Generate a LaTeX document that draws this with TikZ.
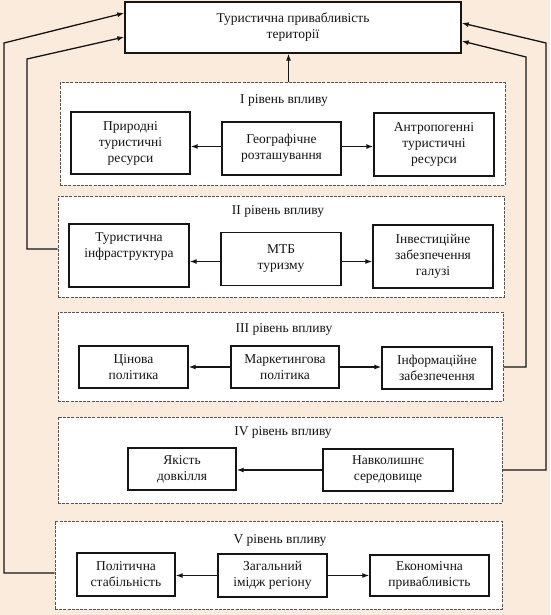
\documentclass[tikz,border=0pt]{standalone}
\usepackage{fontspec}
\setmainfont{Liberation Serif}
\usetikzlibrary{arrows.meta}
\definecolor{bgc}{HTML}{FAEBDC}
\definecolor{ink}{HTML}{151515}
\definecolor{dashc}{HTML}{555555}
\tikzset{
  box/.style={draw=ink, line width=1.4pt, fill=white, inner sep=0pt, align=center,
    font=\fontsize{13.5}{16}\selectfont, text=ink},
  level/.style={draw=dashc, line width=1pt, dash pattern=on 3pt off 1.2pt, fill=white, inner sep=0pt},
  lvlabel/.style={font=\fontsize{13.5}{16}\selectfont, text=ink, inner sep=0pt},
  arr/.style={draw=ink, line width=1.3pt, -{Latex[length=7pt,width=5pt]}},
  fb/.style={draw=ink, line width=1.3pt, -{Latex[length=7pt,width=5pt]}}
}
\begin{document}
\begin{tikzpicture}[x=1pt,y=-1pt]
\useasboundingbox[fill=bgc] (0,0) rectangle (550,615);
% top box
\node[box, minimum width=336pt, minimum height=51pt] (top) at (293,27.5) {Туристична привабливість\\території};
% levels
\node[level, minimum width=445pt, minimum height=102pt] (lv1) at (282.5,134) {};
\node[level, minimum width=446pt, minimum height=101pt] (lv2) at (281,246.5) {};
\node[level, minimum width=445pt, minimum height=89pt] (lv3) at (280.5,356.5) {};
\node[level, minimum width=444pt, minimum height=86pt] (lv4) at (280,460) {};
\node[level, minimum width=447pt, minimum height=88pt] (lv5) at (278.5,565) {};
\node[lvlabel] (l1) at (284,100) {I рівень впливу};
\node[lvlabel] (l2) at (278,211) {II рівень впливу};
\node[lvlabel] (l3) at (284,329) {III рівень впливу};
\node[lvlabel] (l4) at (283,432) {IV рівень впливу};
\node[lvlabel] (l5) at (280,540) {V рівень впливу};
% level I
\node[box, minimum width=119pt, minimum height=62pt] (prir) at (130.5,143) {Природні\\туристичні\\ресурси};
\node[box, minimum width=119pt, minimum height=53pt] (geo) at (281.5,148.5) {Географічне\\розташування};
\node[box, minimum width=120pt, minimum height=63pt] (antr) at (434,144.5) {Антропогенні\\туристичні\\ресурси};
% level II
\node[box, minimum width=120pt, minimum height=63pt] (infr) at (129,255.5) {Туристична\\інфраструктура\\\strut};
\node[box, minimum width=120pt, minimum height=53pt] (mtb) at (281,259) {МТБ\\туризму};
\node[box, minimum width=120pt, minimum height=63pt] (inv) at (433,256.5) {Інвестиційне\\забезпечення\\галузі};
% level III
\node[box, minimum width=109pt, minimum height=42pt] (cin) at (133.5,367) {Цінова\\політика};
\node[box, minimum width=108pt, minimum height=42pt] (mark) at (285,367) {Маркетингова\\політика};
\node[box, minimum width=110pt, minimum height=42pt] (inf) at (437,368) {Інформаційне\\забезпечення};
% level IV
\node[box, minimum width=108pt, minimum height=42pt] (yak) at (182,469) {Якість\\довкілля};
\node[box, minimum width=130pt, minimum height=42pt] (navk) at (388,470) {Навколишнє\\середовище};
% level V
\node[box, minimum width=98pt, minimum height=43pt] (pol) at (126,574.5) {Політична\\стабільність};
\node[box, minimum width=109pt, minimum height=43pt] (zag) at (272.5,575.5) {Загальний\\імідж регіону};
\node[box, minimum width=119pt, minimum height=41pt] (ek) at (429.5,575.5) {Економічна\\привабливість};
% inner arrows
\draw[arr] ([yshift=2pt]geo.west) -- ([yshift=2pt]geo.west -| prir.east);
\draw[arr] ([yshift=2pt]geo.east) -- ([yshift=2pt]geo.east -| antr.west);
\draw[arr] ([yshift=-2.5pt]mtb.west) -- ([yshift=-2.5pt]mtb.west -| infr.east);
\draw[arr] ([yshift=-2.5pt]mtb.east) -- ([yshift=-2.5pt]mtb.east -| inv.west);
\draw[arr] (mark.west) -- (mark.west -| cin.east);
\draw[arr] (mark.east) -- (mark.east -| inf.west);
\draw[arr] (navk.west) -- (navk.west -| yak.east);
\draw[arr] (zag.west) -- (zag.west -| pol.east);
\draw[arr] (zag.east) -- (zag.east -| ek.west);
\draw[arr] ([xshift=6pt]lv1.north) -- ([xshift=6pt]lv1.north |- top.south);
% feedback lines
\coordinate (c1) at (4,43);
\coordinate (c2) at (27,59);
\coordinate (c3) at (526,57);
\coordinate (c4) at (546,43);
\draw[fb] ([yshift=-8pt]lv5.west) -| (c1) -- ([yshift=14.5pt]top.west);
\draw[fb] ([yshift=-2.5pt]lv2.west) -| (c2) -- ([yshift=-9.5pt]top.west);
\draw[fb] ([yshift=-10.5pt]lv3.east) -| (c3) -- ([yshift=-13.5pt]top.east);
\draw[fb] ([yshift=-10pt]lv4.east) -| (c4) -- ([yshift=4.5pt]top.east);
\end{tikzpicture}
\end{document}
